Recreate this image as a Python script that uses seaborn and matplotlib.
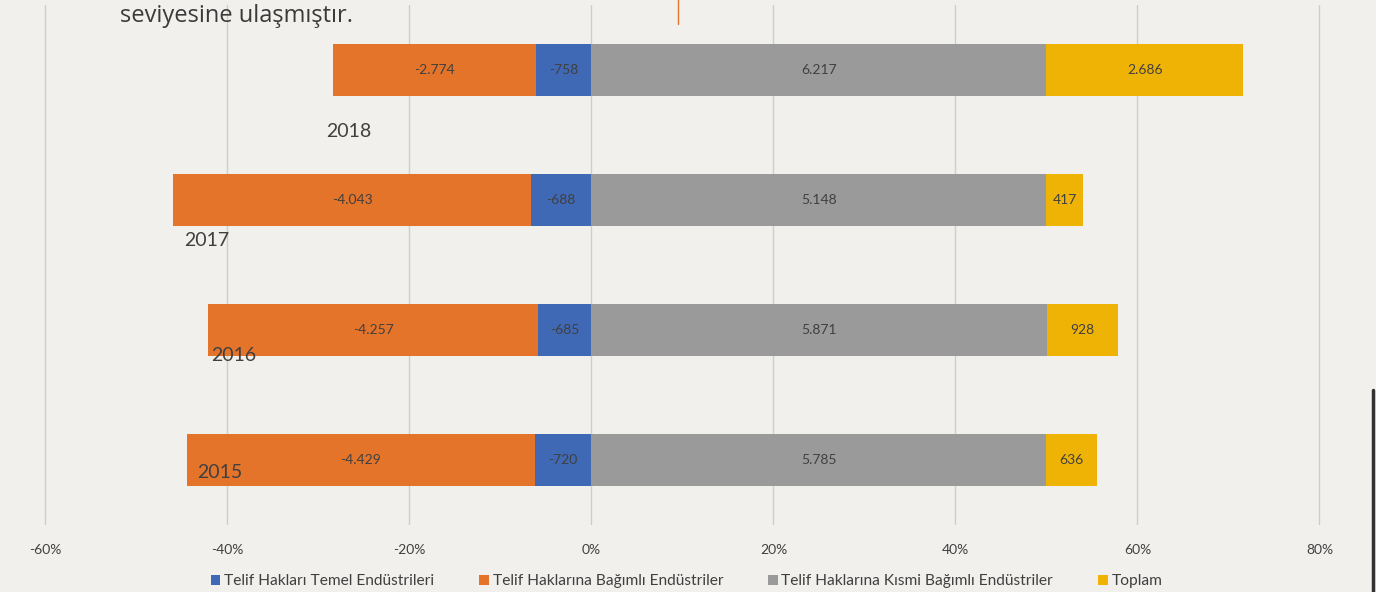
import numpy as np
import pandas as pd
import seaborn as sns
import matplotlib.pyplot as plt
from matplotlib.patches import Patch

# data
years = ['2018', '2017', '2016', '2015']
temel = [-758, -688, -685, -720]            # Telif Hakları Temel Endüstrileri
bagimli = [-2774, -4043, -4257, -4429]      # Telif Haklarına Bağımlı Endüstriler
kismi = [6217, 5148, 5871, 5785]            # Telif Haklarına Kısmi Bağımlı Endüstriler
toplam = [2686, 417, 928, 636]              # Toplam
legend_names = ['Telif Hakları Temel Endüstrileri', 'Telif Haklarına Bağımlı Endüstriler',
                'Telif Haklarına Kısmi Bağımlı Endüstriler', 'Toplam']
xticks = [-60, -40, -20, 0, 20, 40, 60, 80]

# year label placement (layout only)
year_label_x = [-26.7, -42.3, -39.3, -40.9]
year_label_dy = [0.47, 0.31, 0.20, 0.10]

colors = ['#3f68b5', '#e5742b', '#9a9a9a', '#efb306']
bg = '#f1f0ed'
txt = '#404040'

df = pd.DataFrame({'year': years, 'temel': temel, 'bagimli': bagimli,
                   'kismi': kismi, 'toplam': toplam})
tot = df[['temel', 'bagimli', 'kismi', 'toplam']].abs().sum(axis=1)
df['p_temel'] = df['temel'].abs() / tot * 100
df['p_bagimli'] = df['bagimli'].abs() / tot * 100
df['p_kismi'] = df['kismi'] / tot * 100
df['p_toplam'] = df['toplam'] / tot * 100

sns.set_theme(style='white')
plt.rcParams['font.family'] = ['Lato', 'DejaVu Sans']

fig = plt.figure(figsize=(13.76, 5.92), dpi=100, facecolor=bg)
ax = fig.add_axes([0.0, 0.1132, 0.992, 0.8784])
ax.set_facecolor(bg)

# stacked via overlapping cumulative bars
bar_kw = dict(order=years, width=0.4, saturation=1, ax=ax, zorder=3, linewidth=0, edgecolor='none')
sns.barplot(x=-(df['p_temel'] + df['p_bagimli']), y=df['year'], color=colors[1], **bar_kw)
sns.barplot(x=-df['p_temel'], y=df['year'], color=colors[0], **bar_kw)
sns.barplot(x=df['p_kismi'] + df['p_toplam'], y=df['year'], color=colors[3], **bar_kw)
sns.barplot(x=df['p_kismi'], y=df['year'], color=colors[2], **bar_kw)

def fmt(v):
    return f'{v:,}'.replace(',', '.')

for i, r in df.iterrows():
    ax.text(-r['p_temel'] / 2, i, fmt(r['temel']), ha='center', va='center', fontsize=10, color=txt, zorder=5)
    ax.text(-r['p_temel'] - r['p_bagimli'] / 2, i, fmt(r['bagimli']), ha='center', va='center',
            fontsize=10, color=txt, zorder=5)
    ax.text(r['p_kismi'] / 2, i, fmt(r['kismi']), ha='center', va='center', fontsize=10, color=txt, zorder=5)
    ax.text(r['p_kismi'] + r['p_toplam'] / 2, i, fmt(r['toplam']), ha='center', va='center',
            fontsize=10, color=txt, zorder=5)
    ax.text(year_label_x[i], i + year_label_dy[i], r['year'], ha='center', va='center',
            fontsize=14, color=txt, zorder=6)

ax.set_xlim(-65, 85)
ax.set_ylim(3.5, -0.5)
ax.set_xticks(xticks)
ax.set_xticklabels([f'{t}%' for t in xticks], color=txt, fontsize=10)
ax.tick_params(axis='x', length=0, pad=14)
ax.set_yticks([])
ax.set_xlabel('')
ax.set_ylabel('')
ax.grid(axis='x', color='#cdcdcd', linewidth=1, zorder=0)
for s in ax.spines.values():
    s.set_visible(False)

handles = [Patch(facecolor=c, edgecolor='none') for c in colors]
fig.legend(handles, legend_names, loc='center', bbox_to_anchor=(0.499, 0.018), ncol=4,
           frameon=False, fontsize=11.2, handlelength=0.6, handleheight=0.6,
           handletextpad=0.25, columnspacing=2.9, labelcolor=txt)

fig.text(0.087, 0.973, 'seviyesine ulaşmıştır.', fontsize=17, color='#3a3a3a',
         ha='left', va='center', family=['Open Sans', 'DejaVu Sans'], fontweight='medium')
fig.add_artist(plt.Line2D([678 / 1376, 678 / 1376], [1, 1 - 24 / 592], color='#e5742b', lw=1))
fig.add_artist(plt.Line2D([1373 / 1376, 1373 / 1376], [1 - 390 / 592, 0], color='#333333', lw=2.5))

fig.savefig('out.png', dpi=100, facecolor=bg)
